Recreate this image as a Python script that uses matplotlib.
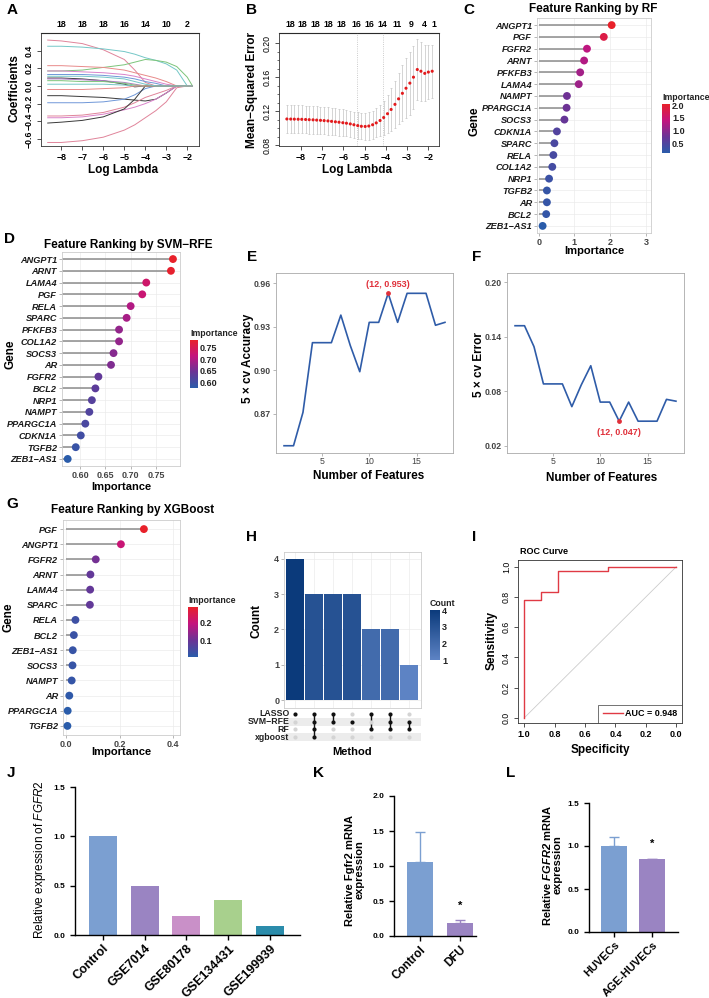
import matplotlib
matplotlib.use('Agg')
import matplotlib.pyplot as plt
import numpy as np
from matplotlib.colors import LinearSegmentedColormap, Normalize
from matplotlib.cm import ScalarMappable

plt.rcParams['font.family'] = ['Liberation Sans', 'DejaVu Sans']
plt.rcParams['mathtext.fontset'] = 'custom'
plt.rcParams['mathtext.rm'] = 'Liberation Sans'
plt.rcParams['mathtext.it'] = 'Liberation Sans:italic'
plt.rcParams['mathtext.bf'] = 'Liberation Sans:bold'
plt.rcParams['mathtext.bfit'] = 'Liberation Sans:italic:bold'

# ---------------- data ----------------
# A: LASSO coefficient paths
lasso_loglambda = [-8.65, -8, -7, -6, -5, -4.5, -4, -3.5, -3, -2.5, -2, -1.75]
lasso_paths = [
    [0.52, 0.51, 0.48, 0.41, 0.30, 0.18, 0.04, 0, 0, 0, 0, 0],
    [0.45, 0.45, 0.44, 0.42, 0.39, 0.36, 0.32, 0.29, 0.25, 0.18, 0, 0],
    [0.17, 0.17, 0.18, 0.21, 0.24, 0.27, 0.30, 0.29, 0.27, 0.22, 0.10, 0],
    [0.23, 0.23, 0.22, 0.21, 0.18, 0.15, 0.12, 0.09, 0.05, 0, 0, 0],
    [0.17, 0.17, 0.16, 0.15, 0.13, 0.11, 0.08, 0.05, 0.02, 0, 0, 0],
    [0.13, 0.13, 0.13, 0.12, 0.10, 0.08, 0.05, 0.03, 0, 0, 0, 0],
    [0.09, 0.09, 0.08, 0.06, 0.02, -0.01, 0, 0, 0, 0, 0, 0],
    [0.08, 0.08, 0.07, 0.06, 0.04, 0.02, 0, 0, 0, 0, 0, 0],
    [0.02, 0.02, 0.02, 0.02, 0.01, 0, 0, 0, 0, 0, 0, 0],
    [-0.11, -0.11, -0.12, -0.13, -0.15, -0.16, -0.17, -0.15, -0.08, 0, 0, 0],
    [-0.19, -0.19, -0.19, -0.18, -0.15, -0.10, -0.03, 0, 0, 0, 0, 0],
    [-0.34, -0.34, -0.33, -0.30, -0.24, -0.19, -0.13, -0.09, -0.05, 0, 0, 0],
    [-0.36, -0.36, -0.35, -0.32, -0.27, -0.24, -0.20, -0.15, -0.08, 0, 0, 0],
    [-0.42, -0.41, -0.39, -0.35, -0.26, -0.15, 0, 0, 0, 0, 0, 0],
    [-0.64, -0.64, -0.62, -0.58, -0.50, -0.44, -0.36, -0.28, -0.18, -0.02, 0, 0],
    [0.06, 0.06, 0.05, 0.05, 0.03, 0.01, 0, 0, 0, 0, 0, 0],
    [-0.04, -0.04, -0.04, -0.03, -0.02, 0, 0, 0, 0, 0, 0, 0],
    [0.11, 0.11, 0.11, 0.10, 0.08, 0.05, 0.02, 0, 0, 0, 0, 0],
]
lasso_top_pos = [-8, -7, -6, -5, -4, -3, -2]
lasso_top_labels = ['18', '18', '18', '16', '14', '10', '2']

# B: cross-validation curve
cv_loglambda = [-8.65, -8.47, -8.30, -8.12, -7.95, -7.77, -7.60, -7.42, -7.25, -7.07,
                -6.90, -6.72, -6.55, -6.37, -6.20, -6.02, -5.85, -5.67, -5.50, -5.32,
                -5.15, -4.97, -4.80, -4.62, -4.45, -4.27, -4.10, -3.92, -3.75, -3.57,
                -3.40, -3.22, -3.05, -2.87, -2.70, -2.52, -2.35, -2.17, -2.00, -1.82]
cv_mse = [0.1108, 0.1107, 0.1106, 0.1105, 0.1104, 0.1102, 0.1100, 0.1098, 0.1095, 0.1092,
          0.1089, 0.1085, 0.1080, 0.1075, 0.1070, 0.1064, 0.1058, 0.1050, 0.1040, 0.1030,
          0.1022, 0.1020, 0.1025, 0.1040, 0.1062, 0.1090, 0.1125, 0.1170, 0.1220, 0.1280,
          0.1345, 0.1410, 0.1470, 0.1530, 0.1600, 0.1690, 0.1670, 0.1645, 0.1660, 0.1670]
cv_se = [0.0165, 0.0165, 0.0165, 0.0164, 0.0164, 0.0163, 0.0163, 0.0162, 0.0162, 0.0161,
         0.0160, 0.0160, 0.0159, 0.0158, 0.0157, 0.0156, 0.0156, 0.0155, 0.0155, 0.0155,
         0.0155, 0.0156, 0.0160, 0.0165, 0.0170, 0.0185, 0.0200, 0.0225, 0.0250, 0.0275,
         0.0300, 0.0330, 0.0355, 0.0370, 0.0370, 0.0360, 0.0345, 0.0330, 0.0315, 0.0310]
cv_lambda_min = -5.35
cv_lambda_1se = -4.14
cv_top_pos = [-8.5, -7.9, -7.3, -6.7, -6.1, -5.4, -4.75, -4.14, -3.48, -2.8, -2.2, -1.72]
cv_top_labels = ['18', '18', '18', '18', '18', '16', '16', '14', '11', '9', '4', '1']

# C: random forest importance
rf_genes = ['ANGPT1', 'PGF', 'FGFR2', 'ARNT', 'PFKFB3', 'LAMA4', 'NAMPT', 'PPARGC1A', 'SOCS3',
            'CDKN1A', 'SPARC', 'RELA', 'COL1A2', 'NRP1', 'TGFB2', 'AR', 'BCL2', 'ZEB1−AS1']
rf_importance = [2.04, 1.82, 1.35, 1.27, 1.16, 1.12, 0.79, 0.78, 0.72,
                 0.51, 0.44, 0.41, 0.38, 0.29, 0.23, 0.23, 0.21, 0.11]

# D: SVM-RFE importance
svm_genes = ['ANGPT1', 'ARNT', 'LAMA4', 'PGF', 'RELA', 'SPARC', 'PFKFB3', 'COL1A2', 'SOCS3',
             'AR', 'FGFR2', 'BCL2', 'NRP1', 'NAMPT', 'PPARGC1A', 'CDKN1A', 'TGFB2', 'ZEB1−AS1']
svm_importance = [0.784, 0.780, 0.731, 0.723, 0.700, 0.692, 0.677, 0.677, 0.666,
                  0.661, 0.636, 0.630, 0.623, 0.618, 0.610, 0.601, 0.591, 0.575]

# E / F: SVM-RFE cross-validation
n_features = list(range(1, 19))
cv_accuracy = [0.848, 0.848, 0.871, 0.919, 0.919, 0.919, 0.938, 0.917, 0.899,
               0.933, 0.933, 0.953, 0.933, 0.953, 0.953, 0.953, 0.931, 0.933]
cv_error = [0.152, 0.152, 0.129, 0.088, 0.088, 0.088, 0.063, 0.087, 0.108,
            0.068, 0.068, 0.047, 0.068, 0.047, 0.047, 0.047, 0.071, 0.069]

# G: XGBoost importance
xgb_genes = ['PGF', 'ANGPT1', 'FGFR2', 'ARNT', 'LAMA4', 'SPARC', 'RELA', 'BCL2',
             'ZEB1−AS1', 'SOCS3', 'NAMPT', 'AR', 'PPARGC1A', 'TGFB2']
xgb_importance = [0.290, 0.204, 0.110, 0.090, 0.089, 0.088, 0.034, 0.028,
                  0.024, 0.023, 0.020, 0.011, 0.005, 0.004]

# H: upset
upset_sets = ['LASSO', 'SVM−RFE', 'RF', 'xgboost']
upset_combos = [['LASSO'], ['LASSO', 'SVM−RFE', 'RF', 'xgboost'], ['LASSO', 'SVM−RFE'],
                ['SVM−RFE'], ['LASSO', 'RF'], ['LASSO', 'SVM−RFE', 'RF'], ['SVM−RFE', 'RF']]
upset_counts = [4, 3, 3, 3, 2, 2, 1]

# I: ROC
roc_specificity = [1.0, 1.0, 0.89, 0.89, 0.776, 0.776, 0.446, 0.446, 0.0]
roc_sensitivity = [0.0, 0.78, 0.78, 0.835, 0.835, 0.974, 0.974, 1.0, 1.0]
roc_auc = 0.948

# J / K / L
j_groups = ['Control', 'GSE7014', 'GSE80178', 'GSE134431', 'GSE199939']
j_values = [1.0, 0.50, 0.19, 0.35, 0.09]
k_groups = ['Control', 'DFU']
k_values = [1.06, 0.19]
k_sd = [0.42, 0.035]
l_groups = ['HUVECs', 'AGE-HUVECs']
l_values = [1.0, 0.845]
l_sd = [0.105, 0.005]

# ---------------- styles ----------------
lasso_colors = ['#e0849a', '#74c7c7', '#7cc47a', '#e88a8a', '#d982c9', '#6f97d8',
                '#3a3a3a', '#b07cc6', '#74c7c7', '#3a3a3a', '#6f97d8', '#e0849a',
                '#d982c9', '#3a3a3a', '#e0849a', '#7cc47a', '#e88a8a', '#74c7c7']
imp_cmap = LinearSegmentedColormap.from_list('imp', ['#2a5caa', '#6a3496', '#c4147e', '#e8212a'])
count_cmap = LinearSegmentedColormap.from_list('cnt', ['#5d83c4', '#0b3a7b'])
j_colors = ['#7b9fd1', '#9a84c2', '#c990c8', '#a8d08d', '#2b8cab']
pair_colors = ['#7b9fd1', '#9a84c2']

W, H = 709, 998
fig = plt.figure(figsize=(W / 100, H / 100), dpi=100)


def add_ax(x0, y0, x1, y1):
    return fig.add_axes([x0 / W, 1 - y1 / H, (x1 - x0) / W, (y1 - y0) / H])


def ftext(x, y, s, **kw):
    kw.setdefault('ha', 'center')
    kw.setdefault('va', 'center')
    fig.text(x / W, 1 - y / H, s, **kw)


def bold_ticks(ax, which='both'):
    labs = []
    if which in ('x', 'both'):
        labs += ax.get_xticklabels()
    if which in ('y', 'both'):
        labs += ax.get_yticklabels()
    for t in labs:
        t.set_fontweight('bold')


def base_r_style(ax):
    for s in ax.spines.values():
        s.set_color('#333333')
        s.set_linewidth(0.6)
    ax.tick_params(length=3, width=0.6, color='#333333', labelsize=6.3, pad=2)
    ax.tick_params(axis='y', labelrotation=90)
    for t in ax.get_yticklabels():
        t.set_va('center')


def gg_style(ax, grid=True):
    for s in ax.spines.values():
        s.set_color('#cccccc')
        s.set_linewidth(0.6)
    ax.tick_params(length=2, width=0.5, color='#999999', labelsize=6.5, labelcolor='#444444', pad=1.5)
    if grid:
        ax.grid(True, color='#ebebeb', lw=0.5)
        ax.set_axisbelow(True)


def add_cbar(box, cmap, vmin, vmax, ticks, title):
    cax = add_ax(*box)
    sm = ScalarMappable(norm=Normalize(vmin, vmax), cmap=cmap)
    cb = fig.colorbar(sm, cax=cax, ticks=ticks)
    cb.outline.set_visible(False)
    cax.tick_params(length=0, labelsize=6.5, pad=1.5)
    for t in cax.get_yticklabels():
        t.set_fontweight('bold')
        t.set_color('#222222')
    cax.set_title(title, fontsize=6.3, fontweight='bold', loc='left', pad=3, color='#222222')


# ---------------- A ----------------
axA = add_ax(41, 33, 199, 146)
for path, col in zip(lasso_paths, lasso_colors):
    axA.plot(lasso_loglambda, path, color=col, lw=0.7)
axA.set_xlim(-8.97, -1.44)
axA.set_ylim(-0.68, 0.60)
axA.set_xticks([-8, -7, -6, -5, -4, -3, -2])
axA.set_yticks([-0.6, -0.4, -0.2, 0.0, 0.2, 0.4])
base_r_style(axA)
bold_ticks(axA)
secA = axA.secondary_xaxis('top')
secA.set_xticks(lasso_top_pos, labels=lasso_top_labels)
secA.tick_params(length=0, pad=3, labelsize=6.3)
for t in secA.get_xticklabels():
    t.set_fontweight('bold')
ftext(14, 88, 'Coefficients', rotation=90, fontsize=8.5, fontweight='bold')
ftext(123, 170, 'Log Lambda', fontsize=8.5, fontweight='bold')

# ---------------- B ----------------
axB = add_ax(279, 33, 439, 146)
axB.errorbar(cv_loglambda, cv_mse, yerr=cv_se, fmt='none', ecolor='#c4c4c4',
             elinewidth=0.5, capsize=1.0, capthick=0.5)
axB.scatter(cv_loglambda, cv_mse, s=5, color='#e31a1c', zorder=3, edgecolors='none')
axB.axvline(cv_lambda_min, color='#bbbbbb', ls=':', lw=0.6)
axB.axvline(cv_lambda_1se, color='#bbbbbb', ls=':', lw=0.6)
axB.set_xlim(-9.02, -1.5)
axB.set_ylim(0.079, 0.212)
axB.set_xticks([-8, -7, -6, -5, -4, -3, -2])
axB.set_yticks([0.08, 0.12, 0.16, 0.20])
axB.set_yticks([0.09, 0.10, 0.11, 0.13, 0.14, 0.15, 0.17, 0.18, 0.19], minor=True)
base_r_style(axB)
axB.tick_params(which='minor', length=1.5, width=0.5, color='#333333')
bold_ticks(axB, 'x')
secB = axB.secondary_xaxis('top')
secB.set_xticks(cv_top_pos, labels=cv_top_labels)
secB.tick_params(length=0, pad=3, labelsize=6.3)
for t in secB.get_xticklabels():
    t.set_fontweight('bold')
ftext(252, 90, 'Mean−Squared Error', rotation=90, fontsize=8.5, fontweight='bold')
ftext(357, 170, 'Log Lambda', fontsize=8.5, fontweight='bold')


# ---------------- lollipops ----------------
def lollipop(box, genes, values, xlim, xticks, xticklabels):
    ax = add_ax(*box)
    n = len(genes)
    ypos = np.arange(n)[::-1]
    norm = Normalize(min(values), max(values))
    ax.hlines(ypos, 0, values, color='#8c8c8c', lw=1.1, zorder=2)
    ax.scatter(values, ypos, c=values, cmap=imp_cmap, norm=norm, s=32, zorder=3,
               edgecolors='none', clip_on=False)
    ax.set_xlim(*xlim)
    ax.set_ylim(-0.6, n - 0.4)
    ax.set_yticks(ypos)
    ax.set_yticklabels(genes)
    ax.set_xticks(xticks)
    ax.set_xticklabels(xticklabels)
    gg_style(ax)
    for t in ax.get_yticklabels():
        t.set_fontsize(6.6)
        t.set_fontweight('bold')
        t.set_fontstyle('italic')
        t.set_color('#1a1a1a')
    bold_ticks(ax, 'x')
    return ax


axC = lollipop((537, 18, 651, 233), rf_genes, rf_importance, (-0.047, 3.14),
               [0, 1, 2, 3], ['0', '1', '2', '3'])
ftext(593, 9, 'Feature Ranking by RF', fontsize=8.5, fontweight='bold')
ftext(475, 121, 'Gene', rotation=90, fontsize=8.5, fontweight='bold')
ftext(594, 251, 'Importance', fontsize=8, fontweight='bold')
add_cbar((662, 104, 670, 153), imp_cmap, min(rf_importance), max(rf_importance),
         [0.5, 1.0, 1.5, 2.0], 'Importance')

axD = lollipop((62, 252, 180, 466), svm_genes, svm_importance, (0.5637, 0.798),
               [0.60, 0.65, 0.70, 0.75], ['0.60', '0.65', '0.70', '0.75'])
ftext(128, 245, 'Feature Ranking by SVM−RFE', fontsize=8.5, fontweight='bold')
ftext(11, 354, 'Gene', rotation=90, fontsize=8.5, fontweight='bold')
ftext(121, 487, 'Importance', fontsize=8, fontweight='bold')
add_cbar((190, 340, 198, 388), imp_cmap, min(svm_importance), max(svm_importance),
         [0.60, 0.65, 0.70, 0.75], 'Importance')

axG = lollipop((63, 520, 180, 735), xgb_genes, xgb_importance, (-0.0125, 0.425),
               [0.0, 0.2, 0.4], ['0.0', '0.2', '0.4'])
ftext(133, 510, 'Feature Ranking by XGBoost', fontsize=8.5, fontweight='bold')
ftext(9, 617, 'Gene', rotation=90, fontsize=8.5, fontweight='bold')
ftext(121, 752, 'Importance', fontsize=8, fontweight='bold')
add_cbar((188, 607, 198, 657), imp_cmap, min(xgb_importance), max(xgb_importance),
         [0.1, 0.2], 'Importance')


# ---------------- E / F ----------------
def cv_line(box, yvals, ylim, yticks, best_idx, label, above):
    ax = add_ax(*box)
    ax.plot(n_features, yvals, color='#2f5ca8', lw=1.2)
    ax.scatter([n_features[best_idx]], [yvals[best_idx]], s=6, color='#e0303a', zorder=3)
    off = (0, 3) if above else (0, -5)
    ax.annotate(label, (n_features[best_idx], yvals[best_idx]), xytext=off,
                textcoords='offset points', ha='center', va='bottom' if above else 'top',
                color='#e0303a', fontsize=6.5, fontweight='bold')
    ax.set_xlim(0.15, 18.85)
    ax.set_ylim(*ylim)
    ax.set_xticks([5, 10, 15])
    ax.set_yticks(yticks)
    ax.set_yticklabels([f'{v:.2f}' for v in yticks])
    gg_style(ax, grid=False)
    for s in ax.spines.values():
        s.set_color('#aaaaaa')
    bold_ticks(ax, 'y')
    ax.tick_params(labelsize=6.3)
    ax.tick_params(axis='x', pad=1)
    return ax


axE = cv_line((276, 273, 453, 453), cv_accuracy, (0.843, 0.967), [0.87, 0.90, 0.93, 0.96],
              11, f'({n_features[11]}, {cv_accuracy[11]:.3f})', True)
ftext(248, 358, '5 × cv Accuracy', rotation=90, fontsize=8.5, fontweight='bold')
ftext(369, 476, 'Number of Features', fontsize=8.5, fontweight='bold')

axF = cv_line((507, 273, 684, 453), cv_error, (0.012, 0.21), [0.02, 0.08, 0.14, 0.20],
              11, f'({n_features[11]}, {cv_error[11]:.3f})', False)
ftext(479, 365, '5 × cv Error', rotation=90, fontsize=8.5, fontweight='bold')
ftext(602, 478, 'Number of Features', fontsize=8.5, fontweight='bold')

# ---------------- H ----------------
axH = add_ax(284, 552, 421, 708)
xs = np.arange(len(upset_counts))
cnorm = Normalize(1, 4)
axH.bar(xs, upset_counts, width=0.9, color=[count_cmap(cnorm(c)) for c in upset_counts], zorder=2)
axH.set_xlim(-0.58, 6.63)
axH.set_ylim(-0.22, 4.19)
axH.set_xticks(xs)
axH.set_xticklabels([])
axH.set_yticks([0, 1, 2, 3, 4])
gg_style(axH)
axH.tick_params(axis='x', length=0)
bold_ticks(axH, 'y')
ftext(257, 621, 'Count', rotation=90, fontsize=8.5, fontweight='bold')
add_cbar((430, 610, 440, 660), count_cmap, 1, 4, [1, 2, 3, 4], 'Count')

axM = add_ax(284, 710, 421, 741)
axM.set_xlim(-0.58, 6.63)
axM.set_ylim(3.5, -0.5)
for r in (1, 3):
    axM.axhspan(r - 0.5, r + 0.5, color='#ececec', lw=0, zorder=0)
for ci, combo in enumerate(upset_combos):
    rows = [upset_sets.index(s) for s in combo]
    for r in range(len(upset_sets)):
        axM.scatter(ci, r, s=9, color='#111111' if r in rows else '#d4d4d4', zorder=3, lw=0)
    if len(rows) > 1:
        axM.plot([ci, ci], [min(rows), max(rows)], color='#111111', lw=1.0, zorder=2)
for r, name in enumerate(upset_sets):
    axM.text(-0.3, r, name, ha='right', va='center', fontsize=6.3, fontweight='bold',
             color='#222222')
axM.axis('off')
ftext(352, 752, 'Method', fontsize=8, fontweight='bold')

# ---------------- I ----------------
axI = add_ax(518, 560, 682, 723)
axI.plot([1, 0], [0, 1], color='#cccccc', lw=0.6)
axI.plot(roc_specificity, roc_sensitivity, color='#e03a44', lw=1.0, label=f'AUC = {roc_auc:.3f}')
axI.set_xlim(1.04, -0.037)
axI.set_ylim(-0.033, 1.044)
axI.set_xticks([1.0, 0.8, 0.6, 0.4, 0.2, 0.0])
axI.set_yticks([0.0, 0.2, 0.4, 0.6, 0.8, 1.0])
base_r_style(axI)
bold_ticks(axI, 'x')
axI.tick_params(axis='x', labelsize=6.5)
leg = axI.legend(loc='lower right', frameon=True, fancybox=False, borderaxespad=0,
                 handlelength=2.2, handletextpad=0.3, borderpad=0.5,
                 prop={'weight': 'bold', 'size': 6.5})
leg.get_frame().set_edgecolor('#333333')
leg.get_frame().set_linewidth(0.6)
ftext(520, 552, 'ROC Curve', ha='left', fontsize=6.5, fontweight='bold')
ftext(492, 640, 'Sensitivity', rotation=90, fontsize=8.5, fontweight='bold')
ftext(600, 750, 'Specificity', fontsize=8.5, fontweight='bold')


# ---------------- J / K / L ----------------
def prism(box, groups, values, colors, xlim, ylim, yticks, sd=None, stars=None, tick_fs=8):
    ax = add_ax(*box)
    xs = np.arange(len(groups))
    ax.bar(xs, values, width=0.67, color=colors, zorder=2)
    if sd is not None:
        for x, v, s, c in zip(xs, values, sd, colors):
            ax.errorbar(x, v, yerr=[[0], [s]], fmt='none', ecolor=c, elinewidth=1.0,
                        capsize=3.5, capthick=1.0, zorder=1)
    if stars is not None:
        for x, ypos in stars:
            ax.text(x, ypos, '*', ha='center', va='center', fontsize=8, fontweight='bold')
    ax.set_xlim(*xlim)
    ax.set_ylim(*ylim)
    ax.set_yticks(yticks)
    ax.set_yticklabels([f'{v:.1f}' for v in yticks])
    ax.set_xticks(xs)
    ax.set_xticklabels(groups, rotation=45, ha='right', rotation_mode='anchor', fontsize=tick_fs)
    for s in ('top', 'right'):
        ax.spines[s].set_visible(False)
    for s in ('left', 'bottom'):
        ax.spines[s].set_linewidth(1.0)
    ax.tick_params(length=3.5, width=1.0, labelsize=6)
    ax.tick_params(axis='x', labelsize=tick_fs, pad=2)
    bold_ticks(ax)
    return ax


axJ = prism((75, 787, 300, 935), j_groups, j_values, j_colors, (-0.67, 4.72), (0, 1.5),
            [0.0, 0.5, 1.0, 1.5], tick_fs=9)
ftext(40, 860, r'Relative expression of $\mathit{FGFR2}$', rotation=90, fontsize=8.5)

axK = prism((394, 796, 476, 936), k_groups, k_values, pair_colors, (-0.65, 1.4), (0, 2.0),
            [0.0, 0.5, 1.0, 1.5, 2.0], sd=k_sd, stars=[(1, 0.43)], tick_fs=8.5)
ftext(355, 870, 'Relative Fgfr2 mRNA\nexpression', rotation=90, fontsize=8, fontweight='bold',
      linespacing=1.0)

axL = prism((589, 803, 678, 932), l_groups, l_values, pair_colors, (-0.66, 1.68), (0, 1.5),
            [0.0, 0.5, 1.0, 1.5], sd=l_sd, stars=[(1, 1.03)], tick_fs=8)
ftext(552, 865, 'Relative $\\mathbfit{FGFR2}$ mRNA\nexpression', rotation=90, fontsize=8,
      fontweight='bold', linespacing=1.0)

# ---------------- panel letters ----------------
for x, y, s in [(7, 3, 'A'), (246, 3, 'B'), (463, 3, 'C'), (4, 232, 'D'), (247, 250, 'E'),
                (472, 250, 'F'), (6, 497, 'G'), (246, 530, 'H'), (472, 530, 'I'),
                (7, 766, 'J'), (313, 766, 'K'), (506, 766, 'L')]:
    ftext(x, y, s, ha='left', va='top', fontsize=11, fontweight='bold')

fig.savefig('out.png', dpi=100, facecolor='white')
